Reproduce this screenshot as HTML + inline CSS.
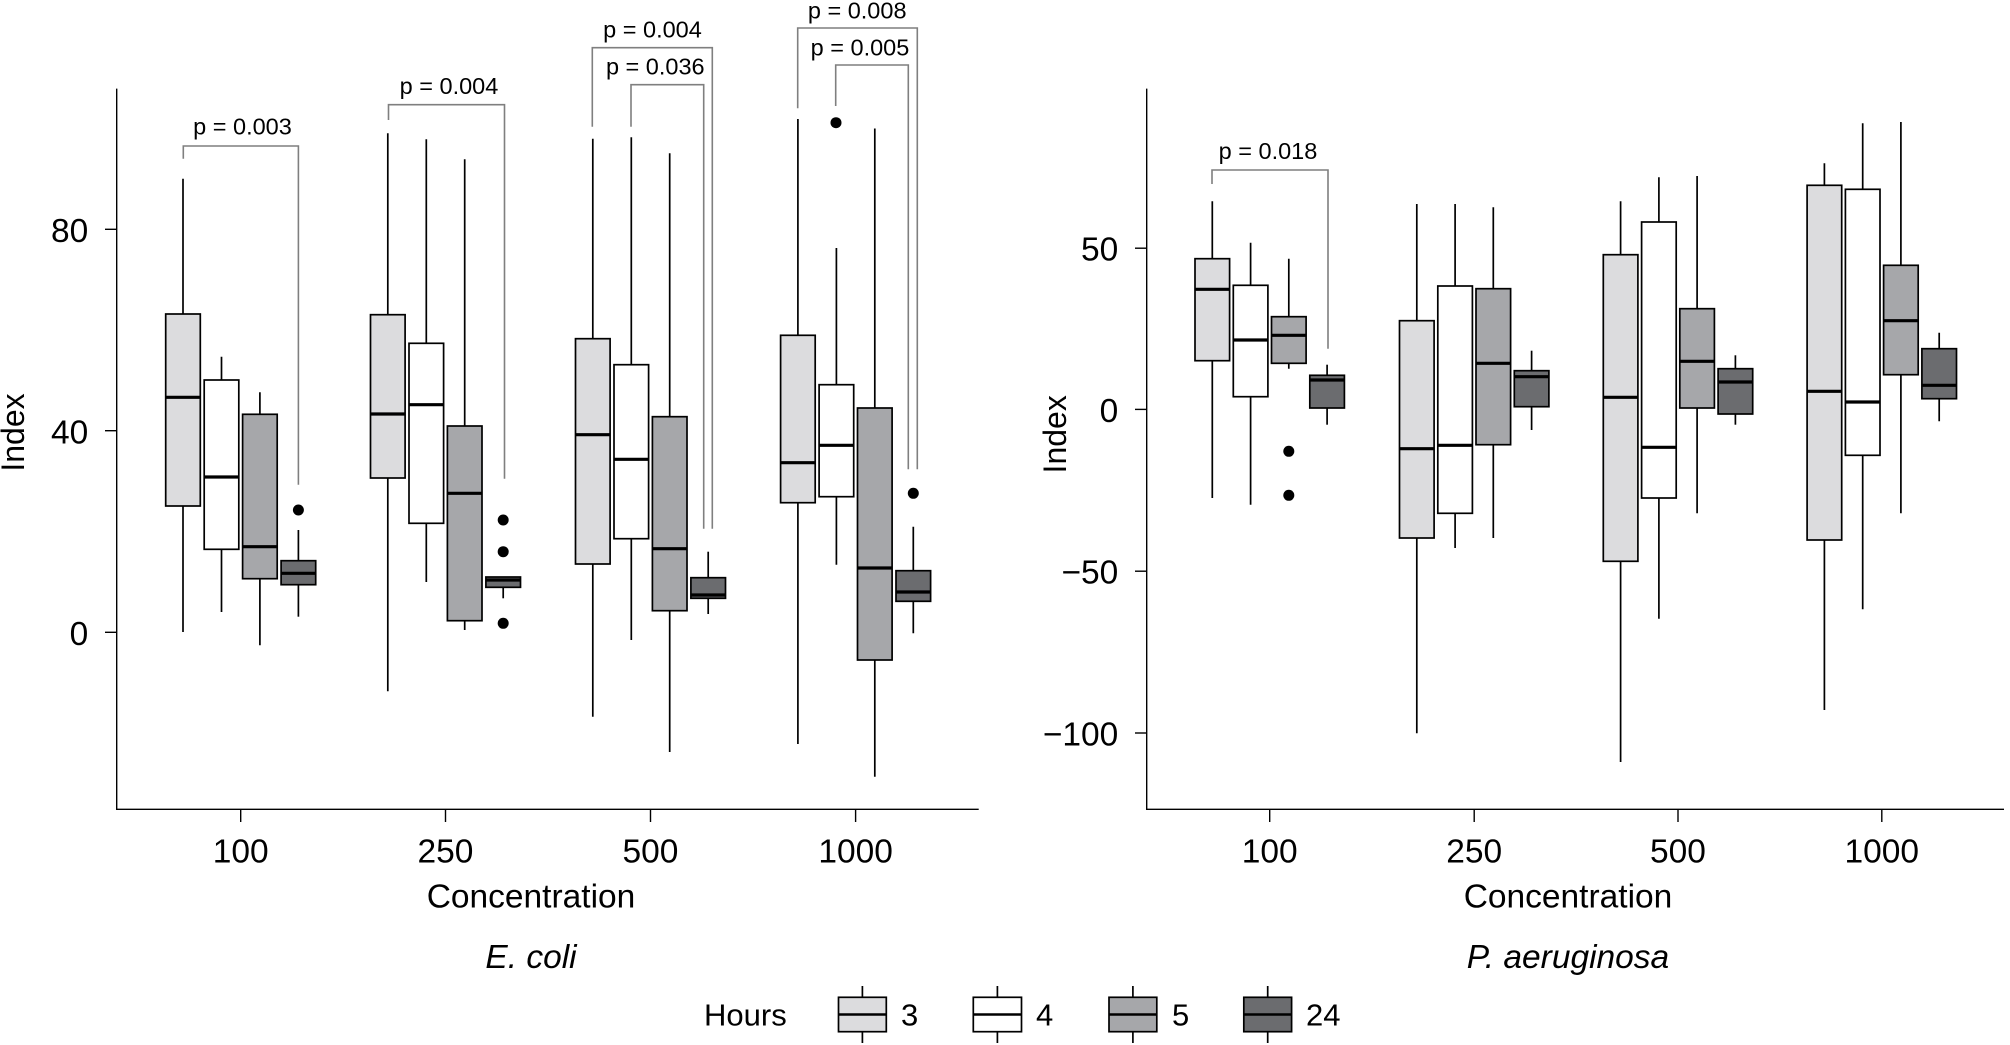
<!DOCTYPE html>
<html><head><meta charset="utf-8"><style>
html,body{margin:0;padding:0;background:#fff;}
svg{display:block;}
text{font-family:"Liberation Sans",Arial,sans-serif;fill:#000;}
.tk{font-size:33.5px;}
.pv{font-size:23.5px;}
.lg{font-size:31px;}
.w{stroke:#000;stroke-width:1.7;}
.lm{stroke:#000;stroke-width:2.4;}
.bx{stroke:#000;stroke-width:1.7;}
.md{stroke:#000;stroke-width:3.2;}
.c3{fill:#dcdcde;} .c4{fill:#ffffff;} .c5{fill:#a6a7aa;} .c24{fill:#6b6c6f;}
.br{fill:none;stroke:#7f7f7f;stroke-width:1.6;}
.ax{stroke:#000;stroke-width:1.4;}
</style></head><body>
<svg width="2010" height="1045" viewBox="0 0 2010 1045" xmlns="http://www.w3.org/2000/svg">
<rect width="2010" height="1045" fill="#fff"/>

<!-- ============ LEFT PANEL ============ -->
<line class="ax" x1="116.7" y1="88.6" x2="116.7" y2="809.3"/>
<line class="ax" x1="116" y1="809.3" x2="978.7" y2="809.3"/>
<line class="ax" x1="105" y1="229.3" x2="116.7" y2="229.3"/>
<line class="ax" x1="105" y1="430.7" x2="116.7" y2="430.7"/>
<line class="ax" x1="105" y1="632.3" x2="116.7" y2="632.3"/>
<text class="tk" x="88.3" y="242" text-anchor="end">80</text>
<text class="tk" x="88.3" y="443.3" text-anchor="end">40</text>
<text class="tk" x="88.3" y="645" text-anchor="end">0</text>
<line class="ax" x1="240.7" y1="809.3" x2="240.7" y2="822"/>
<line class="ax" x1="445.5" y1="809.3" x2="445.5" y2="822"/>
<line class="ax" x1="650.5" y1="809.3" x2="650.5" y2="822"/>
<line class="ax" x1="855.6" y1="809.3" x2="855.6" y2="822"/>
<text class="tk" x="240.7" y="862.7" text-anchor="middle">100</text>
<text class="tk" x="445.5" y="862.7" text-anchor="middle">250</text>
<text class="tk" x="650.5" y="862.7" text-anchor="middle">500</text>
<text class="tk" x="855.6" y="862.7" text-anchor="middle">1000</text>
<text class="tk" x="531" y="907.3" text-anchor="middle">Concentration</text>
<text class="tk" x="531" y="968" text-anchor="middle" font-style="italic">E. coli</text>
<text x="24" y="432.5" font-size="32" text-anchor="middle" transform="rotate(-90 24 432.5)">Index</text>

<!-- g100 -->
<line class="w" x1="183" y1="178.7" x2="183" y2="632"/>
<rect class="bx c3" x="165.7" y="314" width="34.6" height="192"/>
<line class="md" x1="165.7" y1="397.3" x2="200.3" y2="397.3"/>
<line class="w" x1="221.5" y1="356.7" x2="221.5" y2="612"/>
<rect class="bx c4" x="204.2" y="380" width="34.6" height="169.3"/>
<line class="md" x1="204.2" y1="477" x2="238.8" y2="477"/>
<line class="w" x1="259.9" y1="392.3" x2="259.9" y2="645.3"/>
<rect class="bx c5" x="242.6" y="414.3" width="34.6" height="164.4"/>
<line class="md" x1="242.6" y1="546.7" x2="277.2" y2="546.7"/>
<line class="w" x1="298.4" y1="530" x2="298.4" y2="616.7"/>
<rect class="bx c24" x="281.1" y="560.7" width="34.6" height="24"/>
<line class="md" x1="281.1" y1="573.3" x2="315.7" y2="573.3"/>
<circle cx="298.4" cy="510" r="5.5"/>

<!-- g250 -->
<line class="w" x1="387.8" y1="133.3" x2="387.8" y2="691.3"/>
<rect class="bx c3" x="370.5" y="314.7" width="34.6" height="163.3"/>
<line class="md" x1="370.5" y1="414" x2="405.1" y2="414"/>
<line class="w" x1="426.3" y1="139.3" x2="426.3" y2="582"/>
<rect class="bx c4" x="409" y="343.3" width="34.6" height="180"/>
<line class="md" x1="409" y1="404.7" x2="443.6" y2="404.7"/>
<line class="w" x1="464.7" y1="159.3" x2="464.7" y2="630"/>
<rect class="bx c5" x="447.4" y="426" width="34.6" height="194.7"/>
<line class="md" x1="447.4" y1="493.3" x2="482" y2="493.3"/>
<line class="w" x1="503.2" y1="577" x2="503.2" y2="598.3"/>
<rect class="bx c24" x="485.9" y="577" width="34.6" height="10.3"/>
<line class="md" x1="485.9" y1="580" x2="520.5" y2="580"/>
<circle cx="503.2" cy="520" r="5.5"/>
<circle cx="503.2" cy="551.7" r="5.5"/>
<circle cx="503.2" cy="623.3" r="5.5"/>

<!-- g500 -->
<line class="w" x1="592.8" y1="138.7" x2="592.8" y2="716.7"/>
<rect class="bx c3" x="575.5" y="338.7" width="34.6" height="225.3"/>
<line class="md" x1="575.5" y1="434.7" x2="610.1" y2="434.7"/>
<line class="w" x1="631.3" y1="137.3" x2="631.3" y2="640"/>
<rect class="bx c4" x="614" y="364.7" width="34.6" height="174"/>
<line class="md" x1="614" y1="459.3" x2="648.6" y2="459.3"/>
<line class="w" x1="669.7" y1="153.3" x2="669.7" y2="752"/>
<rect class="bx c5" x="652.4" y="416.7" width="34.6" height="194"/>
<line class="md" x1="652.4" y1="548.7" x2="687" y2="548.7"/>
<line class="w" x1="708.2" y1="551.7" x2="708.2" y2="614"/>
<rect class="bx c24" x="690.9" y="577.7" width="34.6" height="20.6"/>
<line class="md" x1="690.9" y1="595" x2="725.5" y2="595"/>

<!-- g1000 -->
<line class="w" x1="797.9" y1="119" x2="797.9" y2="744"/>
<rect class="bx c3" x="780.6" y="335.3" width="34.6" height="167.4"/>
<line class="md" x1="780.6" y1="462.7" x2="815.2" y2="462.7"/>
<line class="w" x1="836.4" y1="248" x2="836.4" y2="564.7"/>
<rect class="bx c4" x="819.1" y="384.7" width="34.6" height="112"/>
<line class="md" x1="819.1" y1="445.3" x2="853.7" y2="445.3"/>
<circle cx="836" cy="122.7" r="5.5"/>
<line class="w" x1="874.8" y1="128.5" x2="874.8" y2="776.7"/>
<rect class="bx c5" x="857.5" y="408" width="34.6" height="252"/>
<line class="md" x1="857.5" y1="568" x2="892.1" y2="568"/>
<line class="w" x1="913.3" y1="526.7" x2="913.3" y2="633.3"/>
<rect class="bx c24" x="896" y="570.7" width="34.6" height="30.6"/>
<line class="md" x1="896" y1="592" x2="930.6" y2="592"/>
<circle cx="913.3" cy="493.3" r="5.5"/>

<!-- brackets left -->
<path class="br" d="M183.3,158.7 V146 H298.4 V484.7"/>
<text class="pv" x="242.5" y="134.3" text-anchor="middle">p = 0.003</text>
<path class="br" d="M388.5,120 V104.7 H504.5 V478.7"/>
<text class="pv" x="449" y="94" text-anchor="middle">p = 0.004</text>
<path class="br" d="M592.3,126.7 V47.7 H712.3 V528.7"/>
<text class="pv" x="652.5" y="37.7" text-anchor="middle">p = 0.004</text>
<path class="br" d="M631,126.7 V84.7 H703.7 V528.7"/>
<text class="pv" x="655.3" y="74.7" text-anchor="middle">p = 0.036</text>
<path class="br" d="M797.7,108.3 V28 H917.3 V469.3"/>
<text class="pv" x="857.2" y="18.3" text-anchor="middle">p = 0.008</text>
<path class="br" d="M835.7,106 V65 H908.3 V469.3"/>
<text class="pv" x="860" y="55.7" text-anchor="middle">p = 0.005</text>

<!-- ============ RIGHT PANEL ============ -->
<line class="ax" x1="1146.7" y1="88.6" x2="1146.7" y2="809.3"/>
<line class="ax" x1="1146" y1="809.3" x2="2004" y2="809.3"/>
<line class="ax" x1="1135" y1="248.2" x2="1146.7" y2="248.2"/>
<line class="ax" x1="1135" y1="409.4" x2="1146.7" y2="409.4"/>
<line class="ax" x1="1135" y1="571.2" x2="1146.7" y2="571.2"/>
<line class="ax" x1="1135" y1="733" x2="1146.7" y2="733"/>
<text class="tk" x="1118.3" y="260.6" text-anchor="end">50</text>
<text class="tk" x="1118.3" y="421.8" text-anchor="end">0</text>
<text class="tk" x="1118.3" y="583.6" text-anchor="end">−50</text>
<text class="tk" x="1118.3" y="745.4" text-anchor="end">−100</text>
<line class="ax" x1="1269.7" y1="809.3" x2="1269.7" y2="822"/>
<line class="ax" x1="1474.2" y1="809.3" x2="1474.2" y2="822"/>
<line class="ax" x1="1678" y1="809.3" x2="1678" y2="822"/>
<line class="ax" x1="1881.8" y1="809.3" x2="1881.8" y2="822"/>
<text class="tk" x="1269.7" y="862.7" text-anchor="middle">100</text>
<text class="tk" x="1474.2" y="862.7" text-anchor="middle">250</text>
<text class="tk" x="1678" y="862.7" text-anchor="middle">500</text>
<text class="tk" x="1881.8" y="862.7" text-anchor="middle">1000</text>
<text class="tk" x="1568" y="907.3" text-anchor="middle">Concentration</text>
<text class="tk" x="1568" y="968" text-anchor="middle" font-style="italic">P. aeruginosa</text>
<text x="1066" y="434.3" font-size="32" text-anchor="middle" transform="rotate(-90 1066 434.3)">Index</text>

<!-- g100 -->
<line class="w" x1="1212.3" y1="201.3" x2="1212.3" y2="498"/>
<rect class="bx c3" x="1195" y="258.7" width="34.6" height="102"/>
<line class="md" x1="1195" y1="289.3" x2="1229.6" y2="289.3"/>
<line class="w" x1="1250.6" y1="242.7" x2="1250.6" y2="504.7"/>
<rect class="bx c4" x="1233.3" y="285.3" width="34.6" height="111.4"/>
<line class="md" x1="1233.3" y1="340" x2="1267.9" y2="340"/>
<line class="w" x1="1288.8" y1="258.7" x2="1288.8" y2="368.7"/>
<rect class="bx c5" x="1271.5" y="316.7" width="34.6" height="46.6"/>
<line class="md" x1="1271.5" y1="335.3" x2="1306.1" y2="335.3"/>
<circle cx="1288.8" cy="451.3" r="5.5"/>
<circle cx="1288.8" cy="495.3" r="5.5"/>
<line class="w" x1="1327.1" y1="364.7" x2="1327.1" y2="424.7"/>
<rect class="bx c24" x="1309.8" y="375.3" width="34.6" height="32.7"/>
<line class="md" x1="1309.8" y1="380" x2="1344.4" y2="380"/>

<!-- g250 -->
<line class="w" x1="1416.8" y1="204" x2="1416.8" y2="733.3"/>
<rect class="bx c3" x="1399.5" y="320.7" width="34.6" height="217.3"/>
<line class="md" x1="1399.5" y1="448.7" x2="1434.1" y2="448.7"/>
<line class="w" x1="1455.1" y1="204" x2="1455.1" y2="548"/>
<rect class="bx c4" x="1437.8" y="286" width="34.6" height="227.3"/>
<line class="md" x1="1437.8" y1="445.3" x2="1472.4" y2="445.3"/>
<line class="w" x1="1493.3" y1="207.3" x2="1493.3" y2="538"/>
<rect class="bx c5" x="1476" y="288.7" width="34.6" height="156"/>
<line class="md" x1="1476" y1="363.3" x2="1510.6" y2="363.3"/>
<line class="w" x1="1531.6" y1="350.7" x2="1531.6" y2="430"/>
<rect class="bx c24" x="1514.3" y="370.7" width="34.6" height="36"/>
<line class="md" x1="1514.3" y1="376.7" x2="1548.9" y2="376.7"/>

<!-- g500 -->
<line class="w" x1="1620.6" y1="201.3" x2="1620.6" y2="762"/>
<rect class="bx c3" x="1603.3" y="254.7" width="34.6" height="306.6"/>
<line class="md" x1="1603.3" y1="397.3" x2="1637.9" y2="397.3"/>
<line class="w" x1="1658.9" y1="177.3" x2="1658.9" y2="618.7"/>
<rect class="bx c4" x="1641.6" y="222" width="34.6" height="276"/>
<line class="md" x1="1641.6" y1="447.3" x2="1676.2" y2="447.3"/>
<line class="w" x1="1697.1" y1="176" x2="1697.1" y2="513.3"/>
<rect class="bx c5" x="1679.8" y="308.7" width="34.6" height="99.3"/>
<line class="md" x1="1679.8" y1="361.3" x2="1714.4" y2="361.3"/>
<line class="w" x1="1735.4" y1="355.3" x2="1735.4" y2="424.7"/>
<rect class="bx c24" x="1718.1" y="368.7" width="34.6" height="45.3"/>
<line class="md" x1="1718.1" y1="382" x2="1752.7" y2="382"/>

<!-- g1000 -->
<line class="w" x1="1824.4" y1="163.3" x2="1824.4" y2="710"/>
<rect class="bx c3" x="1807.1" y="185.3" width="34.6" height="354.7"/>
<line class="md" x1="1807.1" y1="391.3" x2="1841.7" y2="391.3"/>
<line class="w" x1="1862.7" y1="123.3" x2="1862.7" y2="609.3"/>
<rect class="bx c4" x="1845.4" y="189.3" width="34.6" height="266"/>
<line class="md" x1="1845.4" y1="402" x2="1880" y2="402"/>
<line class="w" x1="1900.9" y1="122" x2="1900.9" y2="513.3"/>
<rect class="bx c5" x="1883.6" y="265.3" width="34.6" height="109.4"/>
<line class="md" x1="1883.6" y1="320.7" x2="1918.2" y2="320.7"/>
<line class="w" x1="1939.2" y1="332.7" x2="1939.2" y2="421.3"/>
<rect class="bx c24" x="1921.9" y="348.7" width="34.6" height="50"/>
<line class="md" x1="1921.9" y1="385.3" x2="1956.5" y2="385.3"/>

<!-- bracket right -->
<path class="br" d="M1212,184 V170 H1328 V348.7"/>
<text class="pv" x="1268" y="159" text-anchor="middle">p = 0.018</text>

<!-- ============ LEGEND ============ -->
<text class="lg" x="704" y="1025.7">Hours</text>
<g>
<line class="w" x1="862.4" y1="986" x2="862.4" y2="1043"/>
<rect class="bx c3" x="838.5" y="997.3" width="47.8" height="34.4"/>
<line class="lm" x1="838.5" y1="1014.5" x2="886.3" y2="1014.5"/>
<text class="lg" x="901" y="1025.7">3</text>
</g>
<g>
<line class="w" x1="997.4" y1="986" x2="997.4" y2="1043"/>
<rect class="bx c4" x="973.3" y="997.3" width="48.2" height="34.4"/>
<line class="lm" x1="973.3" y1="1014.5" x2="1021.5" y2="1014.5"/>
<text class="lg" x="1036" y="1025.7">4</text>
</g>
<g>
<line class="w" x1="1132.9" y1="986" x2="1132.9" y2="1043"/>
<rect class="bx c5" x="1109" y="997.3" width="47.8" height="34.4"/>
<line class="lm" x1="1109" y1="1014.5" x2="1156.8" y2="1014.5"/>
<text class="lg" x="1172" y="1025.7">5</text>
</g>
<g>
<line class="w" x1="1267.7" y1="986" x2="1267.7" y2="1043"/>
<rect class="bx c24" x="1243.8" y="997.3" width="47.8" height="34.4"/>
<line class="lm" x1="1243.8" y1="1014.5" x2="1291.6" y2="1014.5"/>
<text class="lg" x="1306" y="1025.7">24</text>
</g>
</svg>
</body></html>
